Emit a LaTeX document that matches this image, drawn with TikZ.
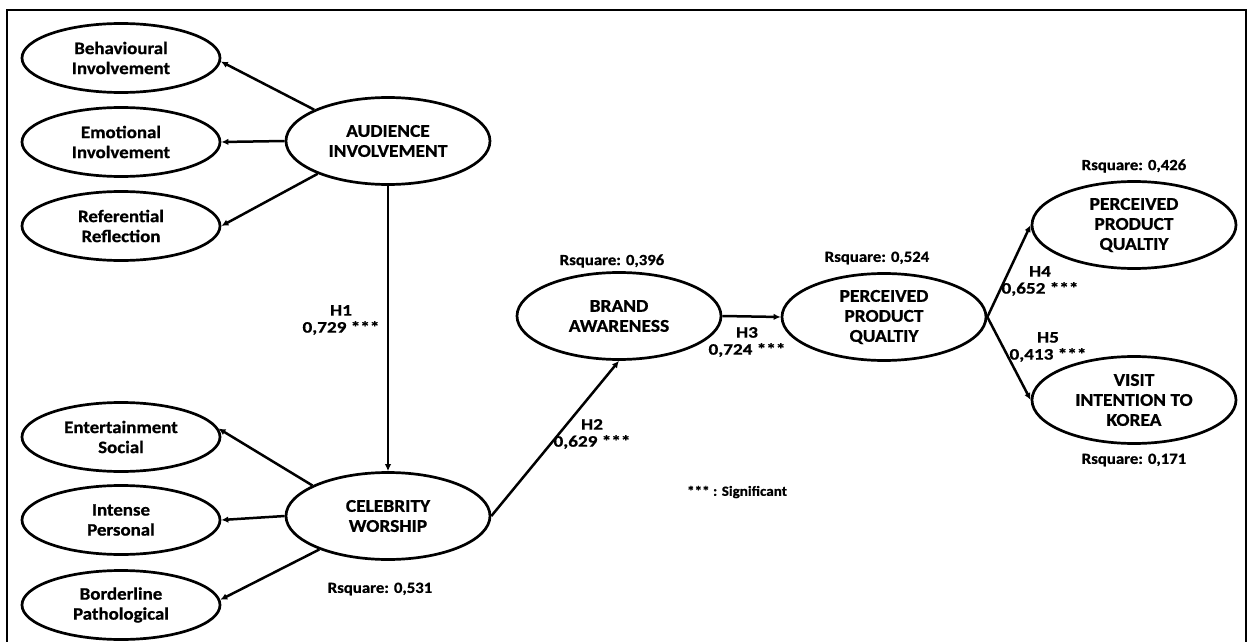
\documentclass[tikz,border=0pt]{standalone}
\usepackage{fontspec}
\setmainfont{Carlito}[FakeStretch=1.08,BoldFeatures={FakeBold=0.8}]
\newfontfamily\hypfont{Carlito}[FakeStretch=1.2,BoldFeatures={FakeBold=0.8}]
\usetikzlibrary{shapes.geometric,arrows.meta}
\tikzset{
  lat/.style={ellipse, draw, line width=2.7pt, minimum width=204pt, minimum height=87pt,
    inner sep=0pt, align=center, font=\fontsize{18}{20}\selectfont\bfseries},
  ind/.style={ellipse, draw, line width=2.7pt, minimum width=198pt, minimum height=69pt,
    inner sep=0pt, align=center, font=\fontsize{17.5}{20}\selectfont\bfseries},
  arr/.style={line width=2.5pt, -{Latex[length=7pt,width=6.5pt]}},
  hyp/.style={align=center, inner sep=0pt, font=\hypfont\fontsize{16}{17}\selectfont\bfseries},
  rsq/.style={inner sep=0pt, font=\fontsize{15.5}{17}\selectfont\bfseries},
  note/.style={inner sep=0pt, font=\fontsize{14}{16}\selectfont\bfseries}
}
\begin{document}
\begin{tikzpicture}[x=1pt,y=-1pt]
\useasboundingbox (0,0) rectangle (1248,642);
% frame
\draw[line width=2pt] (7,650) -- (7,10) -- (1246,10) -- (1246,650);
% indicator ellipses
\node[ind] (beh) at (121,58) {Behavioural\\Involvement};
\node[ind] (emo) at (121,142) {Emotional\\Involvement};
\node[ind] (ref) at (121,226) {Referential\\Reflection};
\node[ind] (ent) at (121,437) {Entertainment\\Social};
\node[ind] (int) at (121,520) {Intense\\Personal};
\node[ind] (bor) at (121,605) {Borderline\\Pathological};
% latent ellipses
\node[lat] (aud) at (388,141) {AUDIENCE\\INVOLVEMENT};
\node[lat] (cel) at (388,516) {CELEBRITY\\WORSHIP};
\node[lat] (brand) at (619,316) {BRAND\\AWARENESS};
\node[lat] (ppq) at (884,317) {PERCEIVED\\PRODUCT\\QUALTIY};
\node[lat] (ppq2) at (1134,225) {PERCEIVED\\PRODUCT\\QUALTIY};
\node[lat] (visit) at (1134,400) {VISIT\\INTENTION TO\\KOREA};
% connectors
\draw[arr] (aud.157) -- (beh.-2);
\draw[arr] (aud.west) -- (emo.east);
\draw[arr] (aud.205) -- (ref.east);
\draw[arr] (aud.south) -- (cel.north);
\draw[arr] (cel.158) -- (ent.5);
\draw[arr] (cel.west) -- (int.east);
\draw[arr] (cel.206) -- (bor.3);
\draw[arr] (cel.east) -- (brand.south);
\draw[arr] (brand.east) -- (ppq.west);
\draw[arr] (ppq.east) -- (ppq2.west);
\draw[arr] (ppq.east) -- (visit.west);
% hypothesis labels
\node[hyp] (h1) at (341,320) {H1\\0,729 ***};
\node[hyp] (h2) at (592,434) {H2\\0,629 ***};
\node[hyp] (h3) at (747,342) {H3\\0,724 ***};
\node[hyp] (h4) at (1040,281) {H4\\0,652 ***};
\node[hyp] (h5) at (1048,347) {H5\\0,413 ***};
% R square labels
\node[rsq] (r1) at (612,261) {Rsquare: 0,396};
\node[rsq] (r2) at (877,258) {Rsquare: 0,524};
\node[rsq] (r3) at (1134,166) {Rsquare: 0,426};
\node[rsq] (r4) at (1134,460) {Rsquare: 0,171};
\node[rsq] (r5) at (380,589) {Rsquare: 0,531};
\node[note] (sig) at (737,492) {*** : Significant};
\end{tikzpicture}
\end{document}
